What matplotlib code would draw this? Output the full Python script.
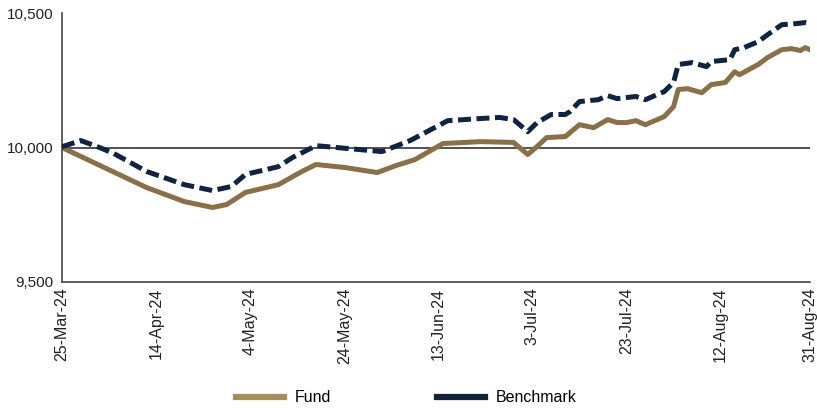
import pandas as pd
import matplotlib.pyplot as plt
import matplotlib.dates as mdates
from matplotlib.lines import Line2D
from matplotlib.ticker import FuncFormatter

plt.rcParams['font.family'] = ['Liberation Sans', 'DejaVu Sans']

fund_dates = ['2024-03-25', '2024-04-12', '2024-04-20', '2024-04-26', '2024-04-29',
              '2024-05-03', '2024-05-10', '2024-05-15', '2024-05-18', '2024-05-24',
              '2024-05-31', '2024-06-04', '2024-06-08', '2024-06-14', '2024-06-22',
              '2024-06-29', '2024-07-02', '2024-07-04', '2024-07-06', '2024-07-10',
              '2024-07-13', '2024-07-16', '2024-07-19', '2024-07-21', '2024-07-23',
              '2024-07-25', '2024-07-27', '2024-07-31', '2024-08-02', '2024-08-03',
              '2024-08-05', '2024-08-08', '2024-08-10', '2024-08-13', '2024-08-15',
              '2024-08-16', '2024-08-20', '2024-08-22', '2024-08-25', '2024-08-27',
              '2024-08-29', '2024-08-30', '2024-08-31']
fund_values = [10000, 9851, 9799, 9777, 9788,
               9833, 9862, 9911, 9937, 9926,
               9907, 9933, 9955, 10015, 10022,
               10019, 9974, 10004, 10037, 10041,
               10085, 10074, 10104, 10093, 10093,
               10100, 10085, 10115, 10152, 10216,
               10219, 10204, 10234, 10242, 10282,
               10271, 10309, 10335, 10364, 10368,
               10361, 10372, 10364]

bench_dates = ['2024-03-25', '2024-03-29', '2024-04-02', '2024-04-05', '2024-04-12',
               '2024-04-20', '2024-04-26', '2024-04-30', '2024-05-03', '2024-05-10',
               '2024-05-13', '2024-05-18', '2024-05-25', '2024-06-01', '2024-06-07',
               '2024-06-15', '2024-06-22', '2024-06-26', '2024-06-29', '2024-07-02',
               '2024-07-04', '2024-07-07', '2024-07-10', '2024-07-11', '2024-07-13',
               '2024-07-17', '2024-07-19', '2024-07-21', '2024-07-23', '2024-07-25',
               '2024-07-27', '2024-07-31', '2024-08-02', '2024-08-03', '2024-08-06',
               '2024-08-09', '2024-08-10', '2024-08-14', '2024-08-15', '2024-08-17',
               '2024-08-20', '2024-08-22', '2024-08-25', '2024-08-28', '2024-08-30',
               '2024-08-31']
bench_values = [10003, 10026, 10000, 9978, 9911,
                9862, 9840, 9855, 9900, 9929,
                9963, 10007, 9996, 9985, 10026,
                10100, 10108, 10112, 10104, 10059,
                10093, 10123, 10123, 10134, 10171,
                10178, 10193, 10182, 10186, 10190,
                10178, 10208, 10242, 10309, 10316,
                10301, 10320, 10327, 10364, 10372,
                10394, 10420, 10457, 10461, 10465,
                10461]

tick_dates = ['2024-03-25', '2024-04-14', '2024-05-04', '2024-05-24', '2024-06-13',
              '2024-07-03', '2024-07-23', '2024-08-12', '2024-08-31']
y_ticks = [9500, 10000, 10500]

fund_color = '#8a7049'
bench_color = '#0e2440'

fig = plt.figure(figsize=(8.17, 4.11), dpi=100)
ax = fig.add_axes([0.0759, 0.314, 0.9155, 0.654])

ax.axhline(10000, color='#333333', lw=1.2, zorder=1)
ax.plot(pd.to_datetime(fund_dates), fund_values, color=fund_color, lw=3.6,
        solid_joinstyle='round', zorder=2)
ax.plot(pd.to_datetime(bench_dates), bench_values, color=bench_color, lw=3.6,
        dashes=(2.6, 1.1), zorder=3)

ax.set_xlim(pd.Timestamp('2024-03-25'), pd.Timestamp('2024-08-31'))
ax.set_ylim(9500, 10500)
ax.set_yticks(y_ticks)
ax.yaxis.set_major_formatter(FuncFormatter(lambda v, p: f'{int(v):,}'))
ax.set_xticks(pd.to_datetime(tick_dates))
ax.xaxis.set_major_formatter(FuncFormatter(
    lambda v, p: f'{mdates.num2date(v).day}-{mdates.num2date(v).strftime("%b-%y")}'))
plt.setp(ax.get_xticklabels(), rotation=90)
ax.tick_params(axis='y', length=0, labelsize=11, colors='#222222', pad=6)
ax.tick_params(axis='x', length=0, labelsize=11.5, colors='#222222', pad=4)

for s in ['top', 'right']:
    ax.spines[s].set_visible(False)
for s in ['left', 'bottom']:
    ax.spines[s].set_color('#444444')
    ax.spines[s].set_linewidth(1.2)

handles = [Line2D([], [], color='#a88d5c', lw=4.5),
           Line2D([], [], color='#14223a', lw=4.5)]
fig.legend(handles, ['Fund', 'Benchmark'], loc='center', ncol=2,
           bbox_to_anchor=(0.4976, 0.032), frameon=False, fontsize=11.5,
           handlelength=3.0, handletextpad=0.69, columnspacing=6.6)

fig.savefig('out.png', dpi=100)
